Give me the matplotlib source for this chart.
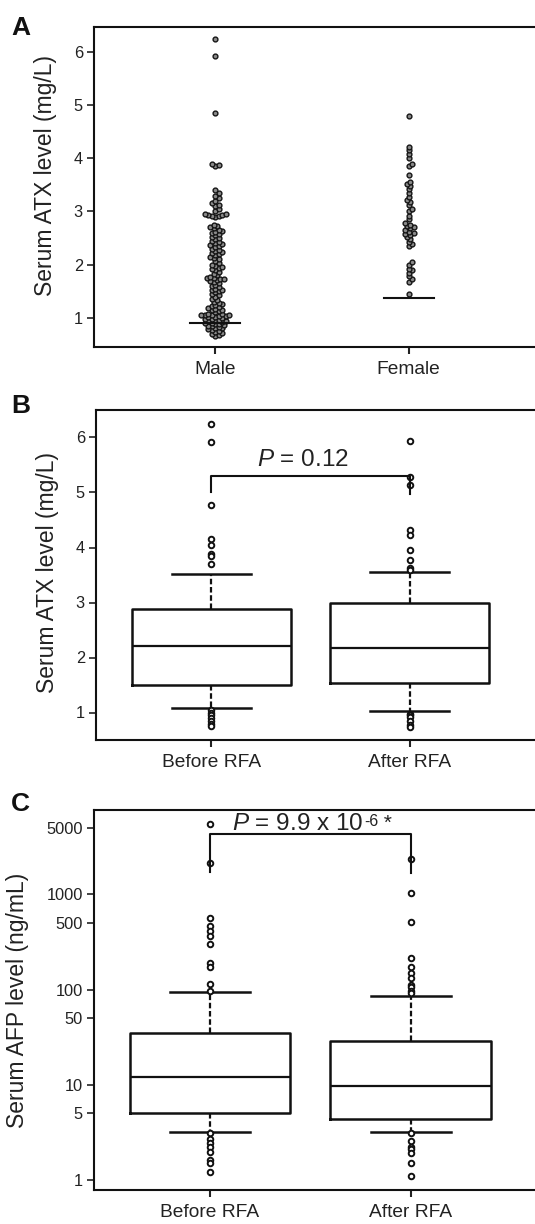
import matplotlib
matplotlib.use('Agg')
import matplotlib.pyplot as plt
import numpy as np

plt.rcParams['font.family'] = ['Liberation Sans', 'DejaVu Sans']
plt.rcParams['mathtext.fontset'] = 'custom'
plt.rcParams['mathtext.rm'] = 'Liberation Sans'
plt.rcParams['mathtext.it'] = 'Liberation Sans:italic'

# ---------------- Panel A data (serum ATX by sex) ----------------
sex_groups = ['Male', 'Female']
male_atx = [0.66, 0.68, 0.70, 0.72, 0.74, 0.75, 0.77, 0.78, 0.80, 0.81, 0.82, 0.84, 0.85,
            0.86, 0.88, 0.89, 0.90, 0.91, 0.92, 0.93, 0.94, 0.95, 0.96, 0.97, 0.98,
            1.00, 1.01, 1.02, 1.03, 1.04, 1.05, 1.05, 1.06, 1.06, 1.07, 1.08, 1.10,
            1.12, 1.14, 1.15, 1.17, 1.18, 1.20, 1.22, 1.24, 1.25, 1.27, 1.30, 1.33,
            1.36, 1.40, 1.42, 1.45, 1.48, 1.50, 1.52, 1.53, 1.55, 1.58, 1.60, 1.62,
            1.65, 1.68, 1.70, 1.71, 1.72, 1.73, 1.74, 1.75, 1.77, 1.80, 1.83, 1.86,
            1.90, 1.92, 1.94, 1.96, 1.98, 2.00, 2.03, 2.06, 2.10, 2.12, 2.15, 2.18,
            2.20, 2.21, 2.23, 2.25, 2.28, 2.30, 2.33, 2.35, 2.36, 2.38, 2.40, 2.42,
            2.45, 2.48, 2.50, 2.52, 2.55, 2.58, 2.60, 2.62, 2.63, 2.65, 2.68, 2.70,
            2.72, 2.75, 2.90, 2.91, 2.92, 2.93, 2.94, 2.95, 2.96, 3.00, 3.05, 3.10,
            3.12, 3.15, 3.20, 3.25, 3.30, 3.35, 3.40, 3.85, 3.88, 3.90, 4.85, 5.92,
            6.25]
female_atx = [1.45, 1.68, 1.72, 1.78, 1.85, 1.90, 1.92, 2.00, 2.05, 2.35, 2.38, 2.42,
              2.48, 2.52, 2.55, 2.58, 2.60, 2.62, 2.65, 2.68, 2.70, 2.72, 2.75, 2.78,
              2.85, 2.92, 3.00, 3.05, 3.12, 3.18, 3.22, 3.28, 3.35, 3.42, 3.48, 3.52,
              3.55, 3.68, 3.85, 3.90, 4.00, 4.08, 4.15, 4.22, 4.80]
sex_lines = [0.90, 1.38]

# ---------------- Panel B data (serum ATX before/after RFA) ----------------
rfa_groups = ['Before RFA', 'After RFA']
atx_q1 = [1.50, 1.53]
atx_med = [2.21, 2.18]
atx_q3 = [2.89, 3.00]
atx_whislo = [1.08, 1.02]
atx_whishi = [3.52, 3.56]
atx_fliers_before = [6.25, 5.92, 4.78, 4.15, 4.05, 3.88, 3.85, 3.70,
                     1.05, 1.00, 0.95, 0.90, 0.85, 0.80, 0.75]
atx_fliers_after = [5.93, 5.28, 5.13, 4.32, 4.22, 3.95, 3.78, 3.62, 3.60,
                    0.98, 0.95, 0.92, 0.85, 0.78, 0.73]
atx_p_label = r'$\mathit{P}$ = 0.12'

# ---------------- Panel C data (serum AFP before/after RFA) ----------------
afp_q1 = [5.0, 4.37]
afp_med = [12.2, 9.7]
afp_q3 = [34.8, 28.8]
afp_whislo = [3.19, 3.17]
afp_whishi = [94.4, 85.7]
afp_fliers_before = [5450, 2120, 569, 466, 412, 365, 301, 189, 171, 114, 97,
                     3.1, 2.67, 2.43, 2.2, 1.99, 1.62, 1.5, 1.22]
afp_fliers_after = [2340, 1042, 517, 213, 174, 148, 131, 112, 106, 97.4, 91.4,
                    3.1, 2.59, 2.24, 2.1, 1.9, 1.52, 1.1]
afp_p_main = r'$\mathit{P}$ = 9.9 x 10'
afp_p_exp = '-6'
afp_p_star = ' *'

W, H = 535, 1224
fig = plt.figure(figsize=(W / 100, H / 100), dpi=100)
TXT = '#222222'
LN = '#111111'


def ax_rect(left, top, right, bottom):
    return [left / W, 1 - bottom / H, (right - left) / W, (bottom - top) / H]


def style(ax):
    ax.spines['right'].set_visible(False)
    for s in ['left', 'bottom', 'top']:
        ax.spines[s].set_linewidth(1.5)
        ax.spines[s].set_color(LN)
    ax.tick_params(axis='y', direction='out', length=5, width=1.2,
                   labelsize=11.8, pad=3, colors=TXT)
    ax.tick_params(axis='x', direction='out', length=5, width=1.5,
                   labelsize=13.8, pad=5, colors=TXT)


def swarm_offsets(ax, xc, vals, diam_px, overlap=0.8):
    """simple beeswarm layout in pixel space"""
    ys = np.array([ax.transData.transform((xc, v))[1] for v in vals])
    order = np.argsort(ys)
    placed = []
    offs = np.zeros(len(vals))
    d = diam_px * overlap
    for i in order:
        y = ys[i]
        cands = [0.0]
        for k in range(1, 30):
            cands += [k * d * 0.5, -k * d * 0.5]
        for c in cands:
            ok = True
            for (px, py) in placed:
                if abs(py - y) < d and (px - c) ** 2 + (py - y) ** 2 < d * d:
                    ok = False
                    break
            if ok:
                offs[i] = c
                placed.append((c, y))
                break
    x0 = ax.transData.transform((xc, 0))[0]
    return [ax.transData.inverted().transform((x0 + o, 0))[0] for o in offs]


# ---------------- Panel A ----------------
axA = fig.add_axes(ax_rect(94, 27, 536, 347))
style(axA)
axA.set_xlim(0.373, 2.658)
axA.set_ylim(0.45, 6.47)
axA.set_yticks([1, 2, 3, 4, 5, 6])
axA.set_xticks([1, 2])
axA.set_xticklabels(sex_groups)
fig.canvas.draw()
for pos, vals in zip([1, 2], [male_atx, female_atx]):
    xs = swarm_offsets(axA, pos, vals, 4.8, overlap=0.72)
    axA.scatter(xs, vals, s=12, facecolor='#8a8a8a', edgecolor='#151515',
                linewidth=1.0, zorder=3)
for pos, v in zip([1, 2], sex_lines):
    axA.plot([pos - 0.13, pos + 0.13], [v, v], color=LN, lw=1.5, zorder=4)
axA.set_ylabel('Serum ATX level (mg/L)', fontsize=16.5, color=TXT)
axA.yaxis.set_label_coords(-0.084, 0.535)


def box_panel(ax, q1, med, q3, lo, hi, fl1, fl2):
    stats = []
    for i, fl in enumerate([fl1, fl2]):
        stats.append(dict(med=med[i], q1=q1[i], q3=q3[i], whislo=lo[i],
                          whishi=hi[i], fliers=fl, label=rfa_groups[i]))
    ax.bxp(stats, positions=[1, 2], widths=0.8, showfliers=True,
           boxprops=dict(color=LN, linewidth=1.8),
           medianprops=dict(color=LN, linewidth=1.6),
           whiskerprops=dict(color=LN, linewidth=1.6,
                             linestyle=(0, (2.5, 1.2))),
           capprops=dict(color=LN, linewidth=1.8),
           capwidths=0.4,
           flierprops=dict(marker='o', markerfacecolor='white',
                           markeredgecolor=LN, markersize=4,
                           markeredgewidth=1.4))


# ---------------- Panel B ----------------
axB = fig.add_axes(ax_rect(96, 410, 536, 740))
style(axB)
box_panel(axB, atx_q1, atx_med, atx_q3, atx_whislo, atx_whishi,
          atx_fliers_before, atx_fliers_after)
axB.set_xlim(0.419, 2.636)
axB.set_ylim(0.5, 6.5)
axB.set_yticks([1, 2, 3, 4, 5, 6])
axB.set_xticks([1, 2])
axB.set_xticklabels(rfa_groups)
axB.plot([1, 1, 2, 2], [5.0, 5.30, 5.30, 4.97], color=LN, lw=1.5)
axB.text(1.46, 5.6, atx_p_label, ha='center', va='center', fontsize=17.5,
         color=TXT)
axB.set_ylabel('Serum ATX level (mg/L)', fontsize=16.5, color=TXT)
axB.yaxis.set_label_coords(-0.084, 0.508)

# ---------------- Panel C ----------------
axC = fig.add_axes(ax_rect(94, 810, 536, 1190))
style(axC)
box_panel(axC, afp_q1, afp_med, afp_q3, afp_whislo, afp_whishi,
          afp_fliers_before, afp_fliers_after)
axC.set_yscale('log')
axC.set_xlim(0.422, 2.624)
axC.set_ylim(0.785, 7670)
yt = [1, 5, 10, 50, 100, 500, 1000, 5000]
axC.set_yticks(yt)
axC.set_yticklabels([str(v) for v in yt])
axC.yaxis.set_minor_locator(matplotlib.ticker.NullLocator())
axC.set_xticks([1, 2])
axC.set_xticklabels(rfa_groups)
axC.plot([1, 1, 2, 2], [1730, 4270, 4270, 1690], color=LN, lw=1.5)
tmain = axC.text(1.108, 4750, afp_p_main, ha='left', va='baseline',
                 fontsize=17.5, color=TXT)
fig.canvas.draw()
bb = tmain.get_window_extent()
inv = fig.transFigure.inverted()
x1, ytop = inv.transform((bb.x1 + 1, bb.y1 - 1))
texp = fig.text(x1, ytop, afp_p_exp, ha='left', va='top', fontsize=11.5,
                color=TXT)
fig.canvas.draw()
bb2 = texp.get_window_extent()
x2, _ = inv.transform((bb2.x1, 0))
fig.text(x2, ytop, afp_p_star, ha='left', va='top', fontsize=15, color=TXT)
axC.set_ylabel('Serum AFP level (ng/mL)', fontsize=16.5, color=TXT)
axC.yaxis.set_label_coords(-0.148, 0.5)

# panel letters
for letter, top in zip(['A', 'B', 'C'], [16, 394, 792]):
    fig.text(11 / W, 1 - top / H, letter, ha='left', va='top', fontsize=19,
             fontweight='bold', color=LN)

fig.savefig('out.png', dpi=100)
